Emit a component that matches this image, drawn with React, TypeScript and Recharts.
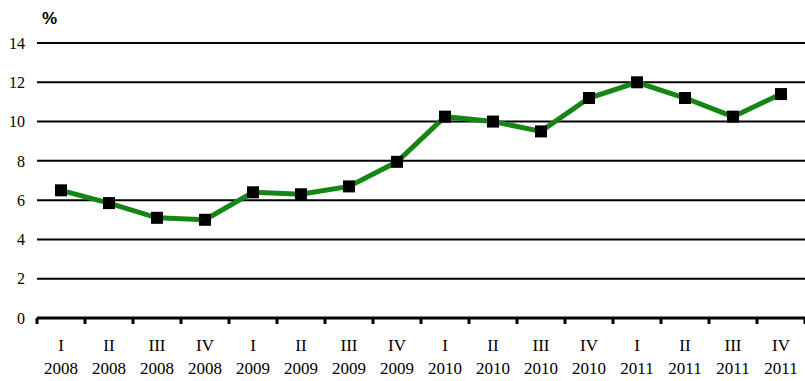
import React from "react";
import { LineChart, Line, XAxis, YAxis, CartesianGrid } from "recharts";

const quarters = ["I", "II", "III", "IV", "I", "II", "III", "IV", "I", "II", "III", "IV", "I", "II", "III", "IV"];
const years = ["2008", "2008", "2008", "2008", "2009", "2009", "2009", "2009", "2010", "2010", "2010", "2010", "2011", "2011", "2011", "2011"];
const values = [6.5, 5.85, 5.1, 5.0, 6.4, 6.3, 6.7, 7.95, 10.25, 10.0, 9.5, 11.2, 12.0, 11.2, 10.25, 11.4];
const yTicks = [0, 2, 4, 6, 8, 10, 12, 14];

const data = values.map((v, i) => ({ pos: i + 0.5, q: quarters[i], year: years[i], value: v }));
const xTicks: number[] = [];
for (let i = 0; i <= quarters.length * 2; i++) xTicks.push(i / 2);

const serif = "'Liberation Serif', 'Times New Roman', serif";

const XTick = (props: any) => {
  const { x, y, payload } = props;
  const v = payload.value as number;
  if (Number.isInteger(v)) {
    return <line x1={x} x2={x} y1={y} y2={y + 6} stroke="#000" strokeWidth={3} />;
  }
  const idx = Math.floor(v);
  return (
    <g>
      <text x={x} y={y + 33} textAnchor="middle" fontFamily={serif} fontSize={17} fill="#000">
        {quarters[idx]}
      </text>
      <text x={x} y={y + 56} textAnchor="middle" fontFamily={serif} fontSize={17} fill="#000">
        {years[idx]}
      </text>
    </g>
  );
};

const YTick = (props: any) => {
  const { x, y, payload } = props;
  return (
    <text x={x} y={y} dy="0.355em" textAnchor="end" fontFamily={serif} fontSize={16} fill="#000">
      {payload.value}
    </text>
  );
};

const SquareDot = (props: any) => {
  const { cx, cy, index } = props;
  return <rect key={`d${index}`} x={cx - 6} y={cy - 6} width={12} height={12} fill="#000" />;
};

export default function App() {
  return (
    <div style={{ position: "absolute", left: 0, top: 0, width: 805, height: 381, background: "#fff" }}>
      <LineChart width={805} height={381} data={data} margin={{ top: 43, right: 0, bottom: 0, left: 0 }}>
        <CartesianGrid vertical={false} stroke="#000" strokeWidth={2} />
        <XAxis
          dataKey="pos"
          type="number"
          domain={[0, 16]}
          ticks={xTicks}
          interval={0}
          height={63}
          tickLine={false}
          tickSize={0}
          tickMargin={0}
          axisLine={{ stroke: "#000", strokeWidth: 3 }}
          tick={<XTick />}
        />
        <YAxis
          domain={[0, 14]}
          ticks={yTicks}
          width={37}
          axisLine={false}
          tickLine={false}
          tickMargin={6}
          tick={<YTick />}
        />
        <Line
          type="linear"
          dataKey="value"
          stroke="#158515"
          strokeWidth={5}
          dot={<SquareDot />}
          activeDot={false}
          isAnimationActive={false}
        />
      </LineChart>
      <div
        style={{
          position: "absolute",
          left: 42,
          top: 10,
          fontFamily: "'Liberation Sans', Arial, sans-serif",
          fontWeight: "bold",
          fontSize: 17,
          lineHeight: "17px",
          color: "#000",
        }}
      >
        %
      </div>
    </div>
  );
}
